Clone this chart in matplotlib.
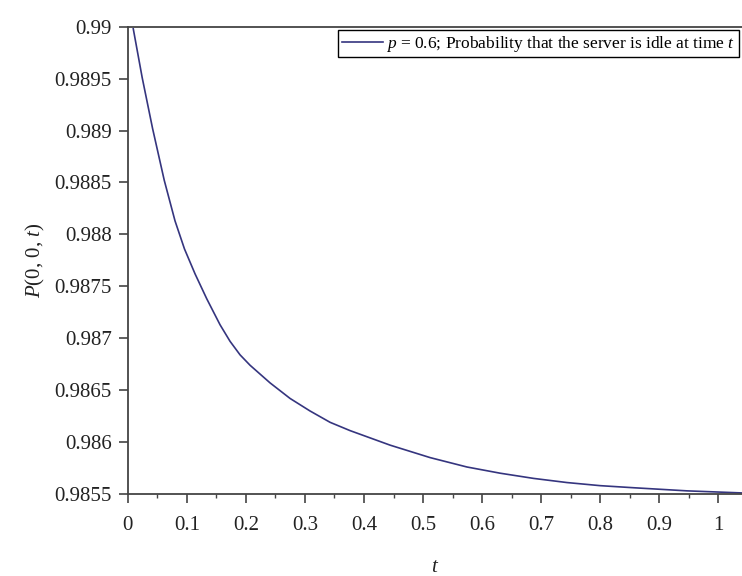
import matplotlib
matplotlib.use("Agg")
import matplotlib.pyplot as plt
from matplotlib.ticker import MultipleLocator, FixedLocator

# ---- data ----
t_values = [0.0093, 0.0244, 0.0420, 0.0618, 0.0800, 0.0960, 0.1139, 0.1337, 0.1562,
            0.1732, 0.1901, 0.2070, 0.2409, 0.2748, 0.3084, 0.3426, 0.3765, 0.4104,
            0.4443, 0.4782, 0.5121, 0.5742, 0.6306, 0.6871, 0.7437, 0.8001, 0.8566,
            0.9470, 1.0400]
p_values = [0.98998, 0.98951, 0.98902, 0.98852, 0.98813, 0.98786, 0.98762, 0.98738,
            0.98713, 0.98697, 0.98684, 0.98674, 0.98657, 0.98642, 0.98630, 0.98619,
            0.98611, 0.98604, 0.98597, 0.98591, 0.98585, 0.98576, 0.98570, 0.98565,
            0.98561, 0.98558, 0.98556, 0.98553, 0.98551]
x_ticks = [0, 0.1, 0.2, 0.3, 0.4, 0.5, 0.6, 0.7, 0.8, 0.9, 1.0]
x_tick_labels = ["0", "0.1", "0.2", "0.3", "0.4", "0.5", "0.6", "0.7", "0.8", "0.9", "1"]
y_ticks = [0.9855, 0.986, 0.9865, 0.987, 0.9875, 0.988, 0.9885, 0.989, 0.9895, 0.99]
y_tick_labels = ["0.9855", "0.986", "0.9865", "0.987", "0.9875", "0.988", "0.9885",
                 "0.989", "0.9895", "0.99"]
legend_label = r"$p$ = 0.6; Probability that the server is idle at time $t$"

plt.rcParams['font.family'] = ['Liberation Serif', 'DejaVu Serif']
plt.rcParams['mathtext.fontset'] = 'custom'
plt.rcParams['mathtext.it'] = 'Liberation Serif:italic'
plt.rcParams['mathtext.rm'] = 'Liberation Serif'

fig = plt.figure(figsize=(7.42, 5.76), dpi=100)
ax = fig.add_axes([0.1722, 0.1424, 0.8278, 0.8112])

spine_col = '#444444'
ax.plot(t_values, p_values, color='#35357f', lw=1.2, label=legend_label,
        solid_joinstyle='round')

ax.set_xlim(0, 1.04)
ax.set_ylim(0.9855, 0.99)
ax.xaxis.set_major_locator(FixedLocator(x_ticks))
ax.set_xticklabels(x_tick_labels)
ax.xaxis.set_minor_locator(MultipleLocator(0.05))
ax.yaxis.set_major_locator(FixedLocator(y_ticks))
ax.set_yticklabels(y_tick_labels)

for s in ['left', 'bottom', 'top']:
    ax.spines[s].set_color(spine_col)
    ax.spines[s].set_linewidth(1.3)
ax.spines['right'].set_visible(False)

ax.tick_params(axis='both', which='major', direction='out', length=6.5, width=1.2,
               color=spine_col, labelsize=15, labelcolor='#222222')
ax.tick_params(axis='x', which='major', pad=9)
ax.tick_params(axis='y', which='major', pad=5)
ax.tick_params(axis='x', which='minor', direction='out', length=3, width=1.0, color=spine_col)
ax.tick_params(top=False, right=False)

ax.set_xlabel(r"$t$", fontsize=15, color='#222222')
ax.set_ylabel(r"$P$(0, 0, $t$)", fontsize=15, color='#222222')
ax.xaxis.set_label_coords(0.5, -0.138)
ax.yaxis.set_label_coords(-0.131, 0.5)

leg = ax.legend(loc='upper right', fontsize=12.5, frameon=True, fancybox=False,
                edgecolor='black', framealpha=1, borderaxespad=0.2,
                handlelength=2.4, handletextpad=0.15, borderpad=0.2)
leg.get_frame().set_linewidth(1.0)

fig.savefig('out.png', dpi=100)
